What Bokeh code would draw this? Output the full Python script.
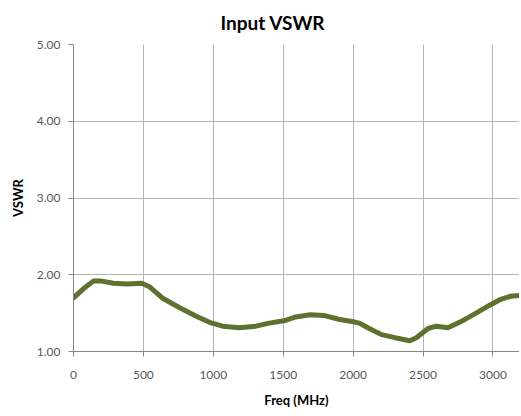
from bokeh.plotting import figure
from bokeh.models import Range1d, FixedTicker, NumeralTickFormatter
from bokeh.embed import file_html
from bokeh.resources import INLINE

freq = [0, 73, 144, 192, 286, 381, 488, 547, 641, 760, 878, 973, 1067, 1186, 1305, 1399,
        1506, 1589, 1695, 1790, 1896, 1991, 2045, 2105, 2204, 2299, 2405, 2452, 2536, 2595,
        2678, 2772, 2879, 2974, 3056, 3127, 3190]
vswr = [1.70, 1.82, 1.92, 1.92, 1.89, 1.88, 1.89, 1.84, 1.69, 1.57, 1.46, 1.38, 1.33, 1.31, 1.33, 1.37,
        1.40, 1.45, 1.48, 1.47, 1.42, 1.39, 1.37, 1.31, 1.22, 1.18, 1.14, 1.18, 1.30, 1.33,
        1.31, 1.39, 1.50, 1.60, 1.68, 1.72, 1.73]
x_ticks = [0, 500, 1000, 1500, 2000, 2500, 3000]
y_ticks = [1, 2, 3, 4, 5]

FONT = "Lato"
p = figure(width=519, height=414, output_backend="svg", toolbar_location=None,
           x_range=Range1d(0, 3190), y_range=Range1d(1, 5),
           min_border_left=73, min_border_right=0, min_border_top=44, min_border_bottom=63)
p.title.text = "Input VSWR"
p.title.text_font = FONT
p.title.text_font_size = "19px"
p.title.text_font_style = "bold"
p.title.align = "left"
p.title.offset = 147
p.title.text_color = "#000000"
p.title.standoff = 18
p.title.vertical_align = "top"

p.outline_line_color = None
p.background_fill_color = "white"
p.border_fill_color = "white"

for ax in (p.xaxis[0], p.yaxis[0]):
    ax.axis_line_color = "#888888"
    ax.major_tick_line_color = "#888888"
    ax.major_tick_out = 5
    ax.major_tick_in = 0
    ax.minor_tick_line_color = None
    ax.major_label_text_font = FONT
    ax.major_label_text_font_size = "12px"
    ax.major_label_text_color = "#595959"
    ax.axis_label_text_font = FONT
    ax.axis_label_text_font_style = "bold"
    ax.axis_label_text_font_size = "13px"
    ax.axis_label_text_color = "#000000"

p.xaxis.ticker = FixedTicker(ticks=x_ticks)
p.yaxis.ticker = FixedTicker(ticks=y_ticks)
p.yaxis.formatter = NumeralTickFormatter(format="0.00")
p.xaxis.axis_label = "Freq (MHz)"
p.yaxis.axis_label = "VSWR"
p.xaxis.major_label_standoff = 14
p.yaxis.major_label_standoff = 8
p.xaxis.axis_label_standoff = 10
p.yaxis.axis_label_standoff = 8

p.xgrid.grid_line_color = "#b4b4b4"
p.ygrid.grid_line_color = "#b4b4b4"
p.xgrid.ticker = FixedTicker(ticks=x_ticks)
p.ygrid.ticker = FixedTicker(ticks=y_ticks)

p.line(freq, vswr, line_color="#5f7131", line_width=5, line_join="round", line_cap="round")

open("out.html", "w").write(file_html(p, INLINE))
